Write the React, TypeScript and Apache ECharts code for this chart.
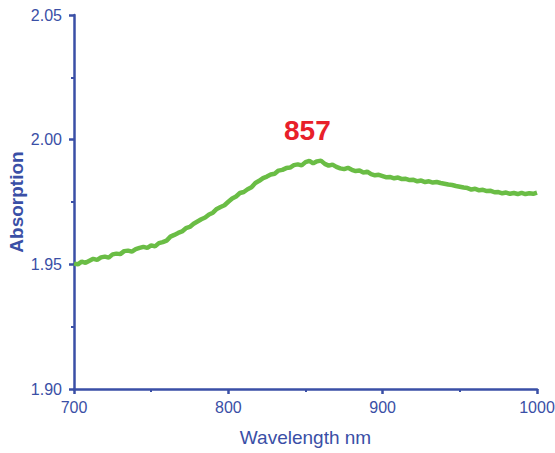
import React, { useEffect, useRef } from "react";
import * as echarts from "echarts";

const wavelengths: number[] = [
  700, 702.5, 705, 707.5, 710, 712.5, 715, 717.5, 720, 722.5, 725, 727.5, 730, 732.5,
  735, 737.5, 740, 742.5, 745, 747.5, 750, 752.5, 755, 757.5, 760, 762.5, 765, 767.5,
  770, 772.5, 775, 777.5, 780, 782.5, 785, 787.5, 790, 792.5, 795, 797.5, 800, 802.5,
  805, 807.5, 810, 812.5, 815, 817.5, 820, 822.5, 825, 827.5, 830, 832.5, 835, 837.5,
  840, 842.5, 845, 847.5, 850, 852.5, 855, 857.5, 860, 862.5, 865, 867.5, 870, 872.5,
  875, 877.5, 880, 882.5, 885, 887.5, 890, 892.5, 895, 897.5, 900, 902.5, 905, 907.5,
  910, 912.5, 915, 917.5, 920, 922.5, 925, 927.5, 930, 932.5, 935, 937.5, 940, 942.5,
  945, 947.5, 950, 952.5, 955, 957.5, 960, 962.5, 965, 967.5, 970, 972.5, 975, 977.5,
  980, 982.5, 985, 987.5, 990, 992.5, 995, 997.5, 1000,
];

const absorption: number[] = [
  1.9503, 1.9500, 1.9511, 1.9506, 1.9514, 1.9522, 1.9518, 1.9528, 1.9531, 1.9527,
  1.9540, 1.9543, 1.9541, 1.9553, 1.9555, 1.9551, 1.9561, 1.9566, 1.9570, 1.9566,
  1.9576, 1.9572, 1.9585, 1.9589, 1.9595, 1.9611, 1.9618, 1.9626, 1.9632, 1.9645,
  1.9650, 1.9663, 1.9672, 1.9681, 1.9688, 1.9700, 1.9707, 1.9722, 1.9730, 1.9737,
  1.9751, 1.9764, 1.9772, 1.9786, 1.9790, 1.9801, 1.9809, 1.9826, 1.9835, 1.9846,
  1.9852, 1.9860, 1.9863, 1.9876, 1.9879, 1.9886, 1.9888, 1.9898, 1.9901, 1.9897,
  1.9910, 1.9915, 1.9905, 1.9913, 1.9916, 1.9903, 1.9896, 1.9900, 1.9891, 1.9885,
  1.9882, 1.9887, 1.9879, 1.9874, 1.9876, 1.9868, 1.9872, 1.9862, 1.9857, 1.9859,
  1.9854, 1.9849, 1.9850, 1.9845, 1.9848, 1.9842, 1.9843, 1.9838, 1.9839, 1.9833,
  1.9836, 1.9830, 1.9833, 1.9828, 1.9830, 1.9826, 1.9823, 1.9820, 1.9818, 1.9814,
  1.9811, 1.9808, 1.9806, 1.9800, 1.9803, 1.9797, 1.9799, 1.9794, 1.9795, 1.9789,
  1.9790, 1.9785, 1.9788, 1.9783, 1.9786, 1.9782, 1.9787, 1.9782, 1.9785, 1.9783,
  1.9788,
];

const peakLabel = "857";

const AXIS = "#3a4fa6";
const FONT = "'Liberation Sans', Arial, sans-serif";

export default function App() {
  const ref = useRef<HTMLDivElement>(null);
  useEffect(() => {
    document.body.style.margin = "0";
    if (!ref.current) return;
    const chart = echarts.init(ref.current, null, { renderer: "svg" });
    const axisCommon = {
      axisLine: { show: true, lineStyle: { color: AXIS, width: 2.5 } },
      axisTick: { show: true, inside: false, length: 5, lineStyle: { color: AXIS, width: 2.5 } },
      minorTick: { show: true, splitNumber: 2, length: 3, lineStyle: { color: AXIS, width: 2 } },
      splitLine: { show: false },
      minorSplitLine: { show: false },
    };
    chart.setOption({
      animation: false,
      backgroundColor: "#ffffff",
      grid: {
        left: 74,
        right: 18,
        top: 15,
        bottom: 64,
        containLabel: false,
        outerBoundsMode: "none",
      },
      xAxis: {
        type: "value",
        min: 700,
        max: 1000,
        interval: 100,
        ...axisCommon,
        axisLabel: {
          color: AXIS,
          fontSize: 16,
          fontFamily: FONT,
          margin: 10,
          formatter: (v: number) => String(v),
        },
        name: "Wavelength nm",
        nameLocation: "middle",
        nameGap: 39,
        nameMoveOverlap: false,
        nameTextStyle: { color: AXIS, fontSize: 19, fontFamily: FONT },
      },
      yAxis: {
        type: "value",
        min: 1.9,
        max: 2.05,
        interval: 0.05,
        ...axisCommon,
        axisLabel: {
          color: AXIS,
          fontSize: 16,
          fontFamily: FONT,
          margin: 12,
          formatter: (v: number) => v.toFixed(2),
        },
        name: "Absorption",
        nameLocation: "middle",
        nameGap: 48,
        nameMoveOverlap: false,
        nameTextStyle: { color: AXIS, fontSize: 19, fontWeight: "bold", fontFamily: FONT },
      },
      graphic: [
        {
          type: "text",
          left: 284,
          top: 116,
          style: {
            text: peakLabel,
            fill: "#e8202a",
            fontSize: 28,
            fontWeight: "bold",
            fontFamily: FONT,
          },
        },
      ],
      series: [
        {
          type: "line",
          data: wavelengths.map((w, i) => [w, absorption[i]]),
          showSymbol: false,
          symbol: "none",
          lineStyle: { color: "#6abd45", width: 4.5 },
          z: 1,
        },
      ],
    });
    return () => chart.dispose();
  }, []);
  return <div ref={ref} style={{ width: 555, height: 453 }} />;
}
